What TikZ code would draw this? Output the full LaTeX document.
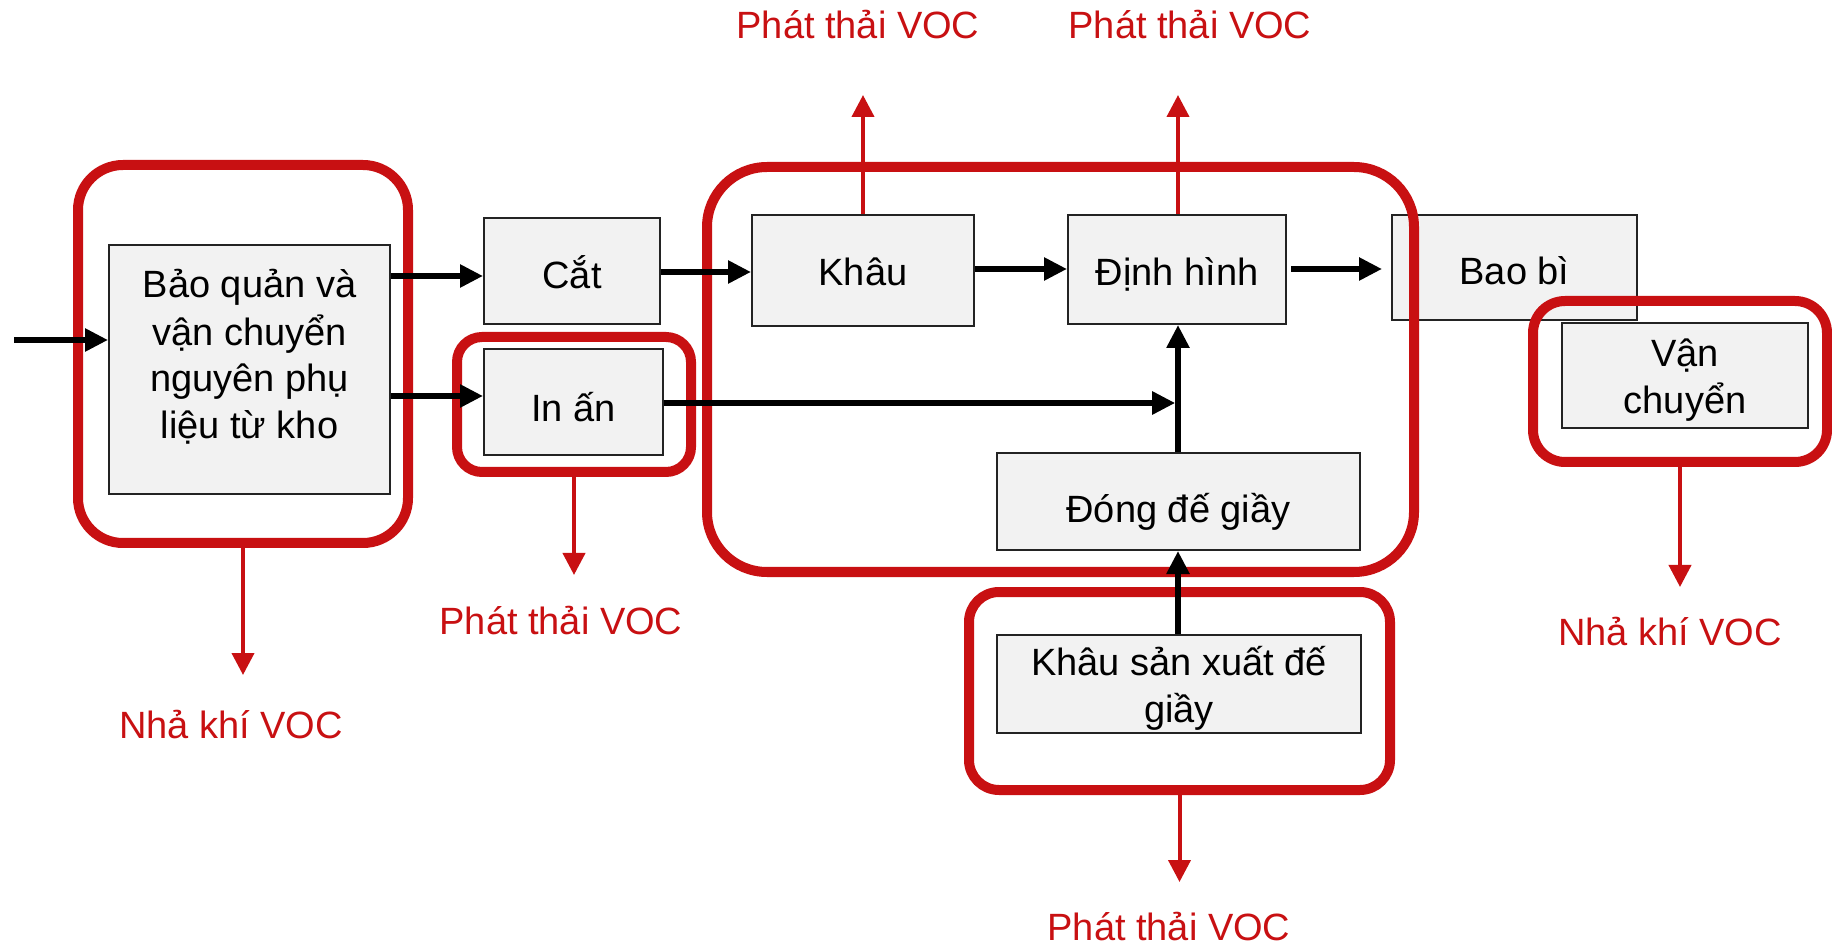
\documentclass[tikz,border=0pt]{standalone}
\usepackage{fontspec}
\setmainfont{Liberation Sans}
\usetikzlibrary{arrows.meta}
\definecolor{vred}{RGB}{200,16,18}
\definecolor{boxfill}{RGB}{242,242,242}
\definecolor{boxline}{RGB}{35,35,35}
\begin{document}
\begin{tikzpicture}[x=0.5pt,y=-0.5pt,
  procbox/.style={draw=boxline, line width=1pt, fill=boxfill, inner sep=0pt, align=center, font=\fontsize{19}{23.5}\selectfont},
  oneline/.style={text height=#1, text depth=0pt},
  flow/.style={line width=2.8pt, -{Triangle[length=11.5pt,width=11pt]}},
  emit/.style={draw=vred, line width=2pt, -{Triangle[length=11pt,width=11pt]}},
  zone/.style={draw=vred, line width=5pt, inner sep=0pt},
  voc/.style={text=vred, font=\fontsize{19}{23}\selectfont, inner sep=0pt, anchor=base}]
\useasboundingbox (0,0) rectangle (1832,946);

% process boxes
\node[procbox, minimum width=140.5pt, minimum height=124.5pt] (bq) at (249.5,369.5) {\rule{0pt}{20pt}Bảo quản và\\vận chuyển\\nguyên phụ\\liệu từ kho\rule[-21pt]{0pt}{0pt}};
\node[procbox, oneline=18pt, minimum width=88pt, minimum height=53pt] (cat) at (572,271) {Cắt};
\node[procbox, oneline=20pt, minimum width=89.5pt, minimum height=53pt] (inan) at (573.5,402) {In ấn};
\node[procbox, oneline=15pt, minimum width=111pt, minimum height=55.5pt] (khau) at (863,270.5) {Khâu};
\node[procbox, oneline=16pt, minimum width=109pt, minimum height=54.5pt] (dh) at (1177,269.5) {Định hình};
\node[procbox, oneline=17.5pt, minimum width=122.5pt, minimum height=52.5pt] (bb) at (1514.5,267.5) {Bao bì};
\node[procbox, minimum width=123pt, minimum height=52.5pt] (vc) at (1685,375.5) {\rule{0pt}{20pt}Vận\\chuyển\rule[-5pt]{0pt}{0pt}};
\node[procbox, oneline=21pt, minimum width=181.5pt, minimum height=48.5pt] (dd) at (1178.5,501.5) {Đóng đế giầy};
\node[procbox, minimum width=182pt, minimum height=48pt] (ksx) at (1179,684) {\rule{0pt}{20pt}Khâu sản xuất đế\\giầy\rule[-5.5pt]{0pt}{0pt}};

% red zones
\node[zone, rounded corners=22.5pt, minimum width=165pt, minimum height=189pt] (z1) at (243,354) {};
\node[zone, rounded corners=12.5pt, minimum width=117pt, minimum height=67.5pt] (z2) at (574,404.5) {};
\node[zone, rounded corners=30pt, minimum width=353.5pt, minimum height=202.5pt] (z3) at (1060.5,369.5) {};
\node[zone, rounded corners=15pt, minimum width=210.5pt, minimum height=99pt] (z4) at (1179.5,691) {};
\node[zone, rounded corners=16pt, minimum width=147pt, minimum height=80.5pt] (z5) at (1680,381.5) {};

% black flow
\coordinate (in0) at (14,340);
\coordinate (jn) at (1178,403);
\draw[flow] (in0) -- (in0 -| bq.west);
\draw[flow] (bq.east |- 0,276) -- (cat.west |- 0,276);
\draw[flow] (bq.east |- 0,396) -- (inan.west |- 0,396);
\draw[flow] (cat.east |- 0,272) -- (khau.west |- 0,272);
\draw[flow] (inan.east |- jn) -- ([xshift=-1.4pt]jn);
\draw[flow] (khau.east |- 0,269) -- (dh.west |- 0,269);
\draw[flow] ([xshift=2pt]dh.east |- 0,269) -- ([xshift=-4.5pt]bb.west |- 0,269);
\draw[flow] (dd.north -| jn) -- (dh.south -| jn);
\draw[flow] (ksx.north -| jn) -- (dd.south -| jn);

% emission labels
\node[voc] (l1) at (231,738) {Nhả khí VOC};
\node[voc] (l2) at (561,634) {Phát thải VOC};
\node[voc] (l3) at (858,38.5) {Phát thải VOC};
\node[voc] (l4) at (1190,38.5) {Phát thải VOC};
\node[voc] (l5) at (1169,940) {Phát thải VOC};
\node[voc] (l6) at (1670,645) {Nhả khí VOC};

% emission arrows
\draw[emit] (z1.south) -- (z1.south |- 0,675);
\draw[emit] (z2.south) -- (z2.south |- 0,575);
\draw[emit] (khau.north) -- (khau.north |- 0,95);
\draw[emit] (dh.north -| jn) -- (jn |- 0,95);
\draw[emit] (z4.south) -- (z4.south |- 0,882);
\draw[emit] (z5.south) -- (z5.south |- 0,587);
\end{tikzpicture}
\end{document}
